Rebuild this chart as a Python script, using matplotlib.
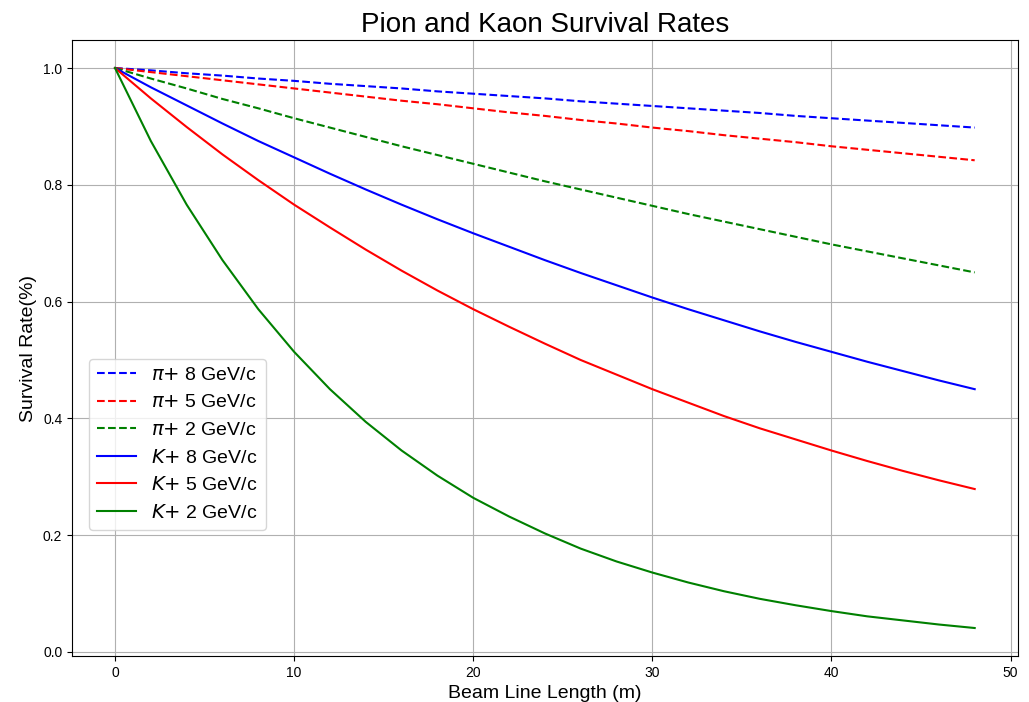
import matplotlib
matplotlib.use('Agg')
import matplotlib.pyplot as plt

plt.rcParams['font.family'] = ['Liberation Sans', 'DejaVu Sans']

# Beam line length (m)
longitud = [0, 2, 4, 6, 8, 10, 12, 14, 16, 18, 20, 22, 24,
            26, 28, 30, 32, 34, 36, 38, 40, 42, 44, 46, 48]

pion_8 = [1.000, 0.996, 0.991, 0.987, 0.982, 0.978, 0.973, 0.969, 0.965, 0.960, 0.956, 0.952, 0.948,
          0.943, 0.939, 0.935, 0.931, 0.927, 0.923, 0.918, 0.914, 0.910, 0.906, 0.902, 0.898]
pion_5 = [1.000, 0.993, 0.986, 0.979, 0.972, 0.965, 0.958, 0.951, 0.944, 0.938, 0.931, 0.924, 0.918,
          0.911, 0.905, 0.898, 0.892, 0.885, 0.879, 0.873, 0.866, 0.860, 0.854, 0.848, 0.842]
pion_2 = [1.000, 0.982, 0.965, 0.947, 0.931, 0.914, 0.898, 0.882, 0.866, 0.851, 0.836, 0.821, 0.806,
          0.792, 0.778, 0.764, 0.750, 0.737, 0.724, 0.711, 0.698, 0.686, 0.674, 0.662, 0.650]
kaon_8 = [1.000, 0.967, 0.936, 0.905, 0.875, 0.847, 0.819, 0.792, 0.766, 0.741, 0.717, 0.694, 0.671,
          0.649, 0.628, 0.607, 0.587, 0.568, 0.549, 0.531, 0.514, 0.497, 0.481, 0.465, 0.450]
kaon_5 = [1.000, 0.948, 0.899, 0.852, 0.808, 0.766, 0.727, 0.689, 0.653, 0.619, 0.587, 0.557, 0.528,
          0.500, 0.475, 0.450, 0.427, 0.404, 0.383, 0.364, 0.345, 0.327, 0.310, 0.294, 0.279]
kaon_2 = [1.000, 0.875, 0.766, 0.671, 0.587, 0.514, 0.450, 0.394, 0.345, 0.302, 0.264, 0.232, 0.203,
          0.177, 0.155, 0.136, 0.119, 0.104, 0.091, 0.080, 0.070, 0.061, 0.054, 0.047, 0.041]

fig = plt.figure(figsize=(10.29, 7.02), dpi=100)
ax = fig.add_axes([0.070, 0.0655, 0.919, 0.8775])

ax.plot(longitud, pion_8, '--', color='blue', label=r'$\pi{+}$ 8 GeV/c')
ax.plot(longitud, pion_5, '--', color='red', label=r'$\pi{+}$ 5 GeV/c')
ax.plot(longitud, pion_2, '--', color='green', label=r'$\pi{+}$ 2 GeV/c')
ax.plot(longitud, kaon_8, '-', color='blue', label=r'$K{+}$ 8 GeV/c')
ax.plot(longitud, kaon_5, '-', color='red', label=r'$K{+}$ 5 GeV/c')
ax.plot(longitud, kaon_2, '-', color='green', label=r'$K{+}$ 2 GeV/c')

ax.set_title('Pion and Kaon Survival Rates', fontsize=20)
ax.set_xlabel('Beam Line Length (m)', fontsize=14)
ax.set_ylabel('Survival Rate(%)', fontsize=14)
ax.grid(True)
ax.legend(fontsize=14, loc='lower left', bbox_to_anchor=(0.018, 0.205), borderaxespad=0)

fig.savefig('out.png', dpi=100)
